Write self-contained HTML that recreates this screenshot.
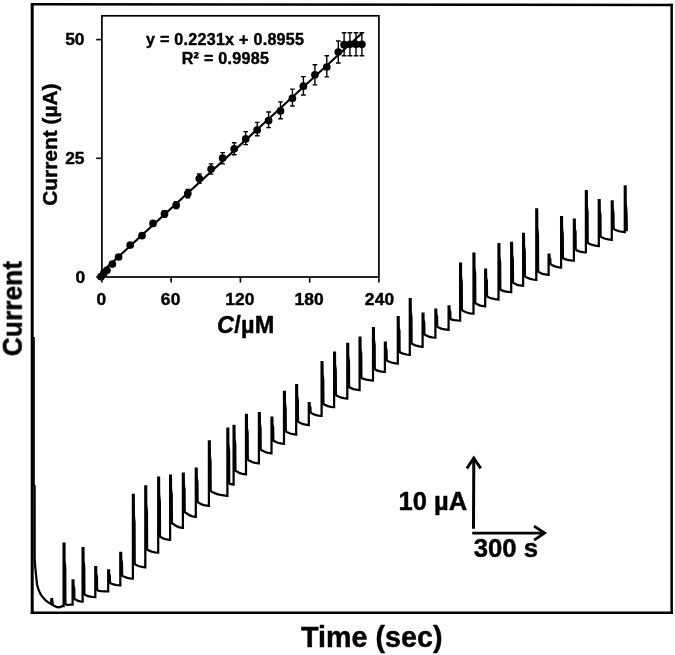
<!DOCTYPE html>
<html lang="en">
<head>
<meta charset="utf-8">
<title>Amperometric response</title>
<style>
html,body{margin:0;padding:0;background:#fff;}
body{width:675px;height:655px;overflow:hidden;font-family:"Liberation Sans",sans-serif;}
svg text{font-family:"Liberation Sans",sans-serif;}
</style>
</head>
<body>
<svg width="675" height="655" viewBox="0 0 675 655" style="display:block">
<rect x="0" y="0" width="675" height="655" fill="#fff"/>
<g fill="none" stroke="#000" stroke-linecap="butt" stroke-linejoin="miter">
<path d="M32.2 614 L32.2 4.2" stroke-width="3"/>
<path d="M30.7 4.2 L672.9 5.0" stroke-width="2.6"/>
<path d="M671.65 3.7 L671.65 614" stroke-width="2.5"/>
<path d="M30.7 612.75 L672.9 612.75" stroke-width="2.5"/>
</g>
<path d="M33.7 337 L33.7 485 L34.6 486 L34.65 558 L35.2 567 L36 574.3 L36.55 580 L37.1 584.7 L38.1 588.5 L39.4 591.7 L41 594.8 L43.1 597.6 L45.6 600.3 L48.6 602.6 L50.8 603.9 L51.4 599 L52.2 599 L52.8 605 L54.7 606 L56.5 606.9 L58 607.4 L60 607.2 L62 606.2 L63.5 606 L63.6 606 L63.6 543.7 L64.45 543.7 L64.55 560.84 L65.25 568.18 L65.4 603.3 L65.9 604.34 L66.9 604.9 L68.72 604.79 L70.53 604.73 L72.4 604.7 L72.6 604.7 L72.6 580.3 L73.45 580.3 L73.55 585.76 L74.25 588.1 L74.4 598.2 L74.9 599.24 L75.9 599.8 L78.05 600.85 L80.19 601.42 L82.4 601.7 L82.6 601.7 L82.6 548.2 L83.45 548.2 L83.55 561.39 L84.25 567.04 L84.4 593.7 L84.9 594.74 L85.9 595.3 L88.94 596.29 L91.97 596.83 L95.1 597.1 L95.3 597.1 L95.3 567.1 L96.15 567.1 L96.25 573.74 L96.95 576.58 L97.1 589.2 L97.6 590.24 L98.6 590.8 L101.7 591.13 L104.8 591.31 L108 591.4 L108.2 591.4 L108.2 570.4 L109.05 570.4 L109.15 574.15 L109.85 575.76 L110 582.2 L110.5 583.24 L111.5 583.8 L114.34 584.62 L117.18 585.07 L120.1 585.3 L120.3 585.3 L120.3 552.9 L121.15 552.9 L121.25 559.51 L121.95 562.34 L122.1 574.9 L122.6 575.94 L123.6 576.5 L126.6 577.65 L129.61 578.28 L132.7 578.6 L132.9 578.6 L132.9 494.9 L133.75 494.9 L133.85 514.53 L134.55 522.94 L134.7 563.4 L135.2 564.44 L136.2 565 L139.14 566.26 L142.07 566.95 L145.1 567.3 L145.3 567.3 L145.3 486.3 L146.15 486.3 L146.25 504.25 L146.95 511.94 L147.1 548.8 L147.6 549.84 L148.6 550.4 L151.7 551.61 L154.8 552.27 L158 552.6 L158.2 552.6 L158.2 477.5 L159.05 477.5 L159.15 494.33 L159.85 501.54 L160 536 L160.5 537.04 L161.5 537.6 L164.27 538.81 L167.04 539.47 L169.9 539.8 L170.1 539.8 L170.1 475.6 L170.95 475.6 L171.05 489.15 L171.75 494.96 L171.9 522.4 L172.4 523.44 L173.4 524 L176.47 526.14 L179.54 527.31 L182.7 527.9 L182.9 527.9 L182.9 473.5 L183.75 473.5 L183.85 484.56 L184.55 489.3 L184.7 511.4 L185.2 512.44 L186.2 513 L189.3 515.14 L192.4 516.31 L195.6 516.9 L195.8 516.9 L195.8 468.6 L196.65 468.6 L196.75 478.23 L197.45 482.36 L197.6 501.4 L198.1 502.44 L199.1 503 L202.27 504.59 L205.44 505.46 L208.7 505.9 L208.9 505.9 L208.9 441.4 L209.75 441.4 L209.85 455.57 L210.55 461.64 L210.7 490.4 L211.2 491.44 L212.2 492 L217.15 494.09 L222.1 495.23 L227.2 495.8 L227.4 495.8 L227.4 428.6 L228.25 428.6 L228.35 444.17 L229.05 450.84 L229.2 482.6 L229.7 483.64 L230.7 484.2 L233.4 484.6 L233.6 484.6 L233.6 425.8 L234.45 425.8 L234.55 438.62 L235.25 444.12 L235.4 470 L235.9 471.04 L236.9 471.6 L239.84 473.14 L242.77 473.98 L245.8 474.4 L246 474.4 L246 414.8 L246.85 414.8 L246.95 427.62 L247.65 433.12 L247.8 459 L248.3 460.04 L249.3 460.6 L252.4 462.14 L255.5 462.98 L258.7 463.4 L258.9 463.4 L258.9 413 L259.75 413 L259.85 423.5 L260.55 428 L260.7 448.9 L261.2 449.94 L262.2 450.5 L265.2 452.04 L268.21 452.88 L271.3 453.3 L271.5 453.3 L271.5 417.6 L272.35 417.6 L272.45 424.26 L273.15 427.12 L273.3 439.8 L273.8 440.84 L274.8 441.4 L277.77 442.72 L280.74 443.44 L283.8 443.8 L284 443.8 L284 391.9 L284.85 391.9 L284.95 403.18 L285.65 408.02 L285.8 430.6 L286.3 431.64 L287.3 432.2 L290.17 433.52 L293.04 434.24 L296 434.6 L296.2 434.6 L296.2 385.1 L297.05 385.1 L297.15 395.6 L297.85 400.1 L298 421 L298.5 422.04 L299.5 422.6 L302.5 423.92 L305.51 424.64 L308.6 425 L308.8 425 L308.8 403 L309.65 403 L309.75 405.94 L310.45 407.2 L310.6 411.9 L311.1 412.94 L312.1 413.5 L315.17 414.82 L318.24 415.54 L321.4 415.9 L321.6 415.9 L321.6 362.2 L322.45 362.2 L322.55 374.16 L323.25 379.28 L323.4 403.3 L323.9 404.34 L324.9 404.9 L327.87 406.11 L330.84 406.77 L333.9 407.1 L334.1 407.1 L334.1 352.5 L334.95 352.5 L335.05 364.71 L335.75 369.94 L335.9 394.5 L336.4 395.54 L337.4 396.1 L340.6 397.42 L343.8 398.14 L347.1 398.5 L347.3 398.5 L347.3 343.9 L348.15 343.9 L348.25 356.22 L348.95 361.5 L349.1 386.3 L349.6 387.34 L350.6 387.9 L353.5 389.06 L356.41 389.69 L359.4 390 L359.6 390 L359.6 337.5 L360.45 337.5 L360.55 349.04 L361.25 353.98 L361.4 377.1 L361.9 378.14 L362.9 378.7 L366.17 379.69 L369.43 380.23 L372.8 380.5 L373 380.5 L373 328 L373.85 328 L373.95 339.79 L374.65 344.84 L374.8 368.5 L375.3 369.54 L376.3 370.1 L379.07 371.09 L381.84 371.63 L384.7 371.9 L384.9 371.9 L384.9 342.6 L385.75 342.6 L385.85 347.84 L386.55 350.08 L386.7 359.7 L387.2 360.74 L388.2 361.3 L391.3 362.51 L394.4 363.17 L397.6 363.5 L397.8 363.5 L397.8 317 L398.65 317 L398.75 327.05 L399.45 331.36 L399.6 351.3 L400.1 352.34 L401.1 352.9 L403.9 353.94 L406.71 354.51 L409.6 354.8 L409.8 354.8 L409.8 299 L410.65 299 L410.75 311.71 L411.45 317.16 L411.6 342.8 L412.1 343.84 L413.1 344.4 L416.17 345.72 L419.24 346.44 L422.4 346.8 L422.6 346.8 L422.6 313.7 L423.45 313.7 L423.55 319.75 L424.25 322.34 L424.4 333.7 L424.9 334.74 L425.9 335.3 L428.97 336.62 L432.04 337.34 L435.2 337.7 L435.4 337.7 L435.4 309.6 L436.25 309.6 L436.35 314.64 L437.05 316.8 L437.2 326 L437.7 327.04 L438.7 327.6 L441.9 328.81 L445.1 329.47 L448.4 329.8 L448.6 329.8 L448.6 306.3 L449.45 306.3 L449.55 310.05 L450.25 311.66 L450.4 318.1 L450.9 319.14 L451.9 319.7 L454.54 320.19 L457.18 320.47 L459.9 320.6 L460.1 320.6 L460.1 263.5 L460.95 263.5 L461.05 276.83 L461.75 282.54 L461.9 309.5 L462.4 310.54 L463.4 311.1 L466.67 312.53 L469.93 313.31 L473.3 313.7 L473.5 313.7 L473.5 253.7 L474.35 253.7 L474.45 267.81 L475.15 273.86 L475.3 302.5 L475.8 303.54 L476.8 304.1 L479.51 305.31 L482.21 305.97 L485 306.3 L485.2 306.3 L485.2 269.7 L486.05 269.7 L486.15 277.4 L486.85 280.7 L487 295.6 L487.5 296.64 L488.5 297.2 L491.73 298.46 L494.97 299.15 L498.3 299.5 L498.5 299.5 L498.5 244.1 L499.35 244.1 L499.45 257.06 L500.15 262.62 L500.3 288.8 L500.8 289.84 L501.8 290.4 L504.84 291.28 L507.87 291.76 L511 292 L511.2 292 L511.2 242.9 L512.05 242.9 L512.15 254.3 L512.85 259.18 L513 282 L513.5 283.04 L514.5 283.6 L517.27 284.81 L520.04 285.47 L522.9 285.8 L523.1 285.8 L523.1 233.8 L523.95 233.8 L524.05 245.95 L524.75 251.16 L524.9 275.6 L525.4 276.64 L526.4 277.2 L529.6 278.69 L532.8 279.5 L536.1 279.9 L536.3 279.9 L536.3 209.4 L537.15 209.4 L537.25 227.1 L537.95 234.68 L538.1 271 L538.6 272.04 L539.6 272.6 L542.5 273.81 L545.41 274.47 L548.4 274.8 L548.6 274.8 L548.6 254.6 L549.45 254.6 L549.55 257.48 L550.25 258.72 L550.4 263.3 L550.9 264.34 L551.9 264.9 L554.87 266.33 L557.84 267.11 L560.9 267.5 L561.1 267.5 L561.1 217.1 L561.95 217.1 L562.05 228.8 L562.75 233.82 L562.9 257.3 L563.4 258.34 L564.4 258.9 L567.47 259.89 L570.54 260.43 L573.7 260.7 L573.9 260.7 L573.9 219.7 L574.75 219.7 L574.85 228.35 L575.55 232.06 L575.7 249 L576.2 250.04 L577.2 250.6 L580 251.59 L582.81 252.13 L585.7 252.4 L585.9 252.4 L585.9 191.1 L586.75 191.1 L586.85 205.83 L587.55 212.14 L587.7 242.1 L588.2 243.14 L589.2 243.7 L592.3 244.97 L595.4 245.66 L598.6 246 L598.8 246 L598.8 200 L599.65 200 L599.75 210.5 L600.45 215 L600.6 235.9 L601.1 236.94 L602.1 237.5 L605.24 238.77 L608.37 239.46 L611.6 239.8 L611.8 239.8 L611.8 201.3 L612.65 201.3 L612.75 209.25 L613.45 212.66 L613.6 228.1 L614.1 229.14 L615.1 229.7 L618.24 231.02 L621.37 231.74 L624.6 232.1 L624.8 232.1 L624.8 186.3 L625.65 186.3 L625.7 203.29 L626.4 210.89 L626.7 222.5 L626.8 231.3" fill="none" stroke="#000" stroke-width="2.25" stroke-linejoin="miter" stroke-miterlimit="2" stroke-linecap="butt"/>
<g fill="none" stroke="#000" stroke-linecap="butt" stroke-linejoin="miter">
<path d="M473.5 528.8 L473.8 458" stroke-width="3"/>
<path d="M466.9 468.4 L473.8 458.0 L480.7 468.4" stroke-width="2.9" stroke-miterlimit="6"/>
<path d="M472.2 533.1 L544 533.1" stroke-width="2.6"/>
<path d="M534.1 526.1 L544.5 533.1 L534.1 540.1" stroke-width="2.9" stroke-miterlimit="6"/>
</g>
<g fill="none" stroke="#000" stroke-linecap="butt">
<rect x="101.9" y="15.8" width="277" height="261.2" stroke-width="1.7"/>
<path d="M96.2 39.6 L101.9 39.6" stroke-width="1.6"/>
<path d="M96.2 158.3 L101.9 158.3" stroke-width="1.6"/>
<path d="M96.2 277.0 L101.9 277.0" stroke-width="1.6"/>
<path d="M101.9 277.0 L101.9 282.6" stroke-width="1.6"/>
<path d="M171.15 277.0 L171.15 282.6" stroke-width="1.6"/>
<path d="M240.4 277.0 L240.4 282.6" stroke-width="1.6"/>
<path d="M309.65 277.0 L309.65 282.6" stroke-width="1.6"/>
<path d="M378.9 277.0 L378.9 282.6" stroke-width="1.6"/>
</g>
<path d="M100.6 273.1 L361.6 33.6" stroke="#000" stroke-width="2.1" fill="none"/>
<g stroke="#000" stroke-width="1.4" fill="none">
<path d="M164.5 210.6 L164.5 217.2 M162.15 210.6 L166.85 210.6 M162.15 217.2 L166.85 217.2"/>
<path d="M176.2 201.6 L176.2 208.6 M173.85 201.6 L178.55 201.6 M173.85 208.6 L178.55 208.6"/>
<path d="M187.8 189.5 L187.8 197.7 M185.45 189.5 L190.15 189.5 M185.45 197.7 L190.15 197.7"/>
<path d="M199.3 174 L199.3 183.2 M196.95 174 L201.65 174 M196.95 183.2 L201.65 183.2"/>
<path d="M211.1 163.9 L211.1 174.1 M208.75 163.9 L213.45 163.9 M208.75 174.1 L213.45 174.1"/>
<path d="M222.6 152.6 L222.6 163.9 M220.25 152.6 L224.95 152.6 M220.25 163.9 L224.95 163.9"/>
<path d="M234.2 142.7 L234.2 154.8 M231.85 142.7 L236.55 142.7 M231.85 154.8 L236.55 154.8"/>
<path d="M245.7 131.6 L245.7 144.6 M243.35 131.6 L248.05 131.6 M243.35 144.6 L248.05 144.6"/>
<path d="M257.2 122.4 L257.2 135.8 M254.85 122.4 L259.55 122.4 M254.85 135.8 L259.55 135.8"/>
<path d="M268.6 112 L268.6 127.6 M266.25 112 L270.95 112 M266.25 127.6 L270.95 127.6"/>
<path d="M280.5 101.9 L280.5 118.8 M278.15 101.9 L282.85 101.9 M278.15 118.8 L282.85 118.8"/>
<path d="M292.4 89.1 L292.4 106 M290.05 89.1 L294.75 89.1 M290.05 106 L294.75 106"/>
<path d="M303.4 76.6 L303.4 95 M301.05 76.6 L305.75 76.6 M301.05 95 L305.75 95"/>
<path d="M314.9 64.7 L314.9 84.9 M312.55 64.7 L317.25 64.7 M312.55 84.9 L317.25 84.9"/>
<path d="M326.8 55.7 L326.8 76.9 M324.45 55.7 L329.15 55.7 M324.45 76.9 L329.15 76.9"/>
<path d="M338.3 41 L338.3 63 M335.95 41 L340.65 41 M335.95 63 L340.65 63"/>
<path d="M344.1 32.8 L344.1 55.7 M341.75 32.8 L346.45 32.8 M341.75 55.7 L346.45 55.7"/>
<path d="M349.9 32.8 L349.9 55.7 M347.55 32.8 L352.25 32.8 M347.55 55.7 L352.25 55.7"/>
<path d="M356 32.8 L356 55.7 M353.65 32.8 L358.35 32.8 M353.65 55.7 L358.35 55.7"/>
<path d="M361.9 32.8 L361.9 55.7 M359.55 32.8 L364.25 32.8 M359.55 55.7 L364.25 55.7"/>
</g>
<g fill="#000">
<circle cx="101" cy="276.7" r="3.85"/>
<circle cx="103.7" cy="273.5" r="3.85"/>
<circle cx="106.9" cy="270.3" r="3.85"/>
<circle cx="112.4" cy="264.1" r="3.85"/>
<circle cx="118.6" cy="257" r="3.85"/>
<circle cx="130.2" cy="245.1" r="3.85"/>
<circle cx="142" cy="235.7" r="3.85"/>
<circle cx="153" cy="223.4" r="3.85"/>
<circle cx="164.5" cy="213.9" r="3.85"/>
<circle cx="176.2" cy="205.1" r="3.85"/>
<circle cx="187.8" cy="193.6" r="3.85"/>
<circle cx="199.3" cy="178.6" r="3.85"/>
<circle cx="211.1" cy="169" r="3.85"/>
<circle cx="222.6" cy="158" r="3.85"/>
<circle cx="234.2" cy="148.8" r="3.85"/>
<circle cx="245.7" cy="138.9" r="3.85"/>
<circle cx="257.2" cy="130.1" r="3.85"/>
<circle cx="268.6" cy="120.6" r="3.85"/>
<circle cx="280.5" cy="110.9" r="3.85"/>
<circle cx="292.4" cy="98.3" r="3.85"/>
<circle cx="303.4" cy="86.2" r="3.85"/>
<circle cx="314.9" cy="74.8" r="3.85"/>
<circle cx="326.8" cy="67" r="3.85"/>
<circle cx="338.3" cy="52" r="3.85"/>
<circle cx="344.1" cy="44.7" r="3.85"/>
<circle cx="349.9" cy="44.3" r="3.85"/>
<circle cx="356" cy="44.3" r="3.85"/>
<circle cx="361.9" cy="44.3" r="3.85"/>
</g>
<g opacity="0.999">
<text x="84.5" y="45.2" font-size="17.4" text-anchor="end" font-family="Liberation Sans, sans-serif" font-weight="bold" fill="#000" stroke="#000" stroke-width="0.45" stroke-linejoin="round" >50</text>
<text x="84.5" y="164.2" font-size="17.4" text-anchor="end" font-family="Liberation Sans, sans-serif" font-weight="bold" fill="#000" stroke="#000" stroke-width="0.45" stroke-linejoin="round" >25</text>
<text x="85.2" y="283.3" font-size="17.4" text-anchor="end" font-family="Liberation Sans, sans-serif" font-weight="bold" fill="#000" stroke="#000" stroke-width="0.45" stroke-linejoin="round" >0</text>
<text x="101.4" y="305.1" font-size="17.4" text-anchor="middle" font-family="Liberation Sans, sans-serif" font-weight="bold" fill="#000" stroke="#000" stroke-width="0.45" stroke-linejoin="round" letter-spacing="0.15">0</text>
<text x="170.65" y="305.1" font-size="17.4" text-anchor="middle" font-family="Liberation Sans, sans-serif" font-weight="bold" fill="#000" stroke="#000" stroke-width="0.45" stroke-linejoin="round" letter-spacing="0.15">60</text>
<text x="239.9" y="305.1" font-size="17.4" text-anchor="middle" font-family="Liberation Sans, sans-serif" font-weight="bold" fill="#000" stroke="#000" stroke-width="0.45" stroke-linejoin="round" letter-spacing="0.15">120</text>
<text x="309.15" y="305.1" font-size="17.4" text-anchor="middle" font-family="Liberation Sans, sans-serif" font-weight="bold" fill="#000" stroke="#000" stroke-width="0.45" stroke-linejoin="round" letter-spacing="0.15">180</text>
<text x="379.6" y="305.1" font-size="17.4" text-anchor="middle" font-family="Liberation Sans, sans-serif" font-weight="bold" fill="#000" stroke="#000" stroke-width="0.45" stroke-linejoin="round" letter-spacing="0.15">240</text>
<text x="146" y="44.9" font-size="16.1" text-anchor="start" font-family="Liberation Sans, sans-serif" font-weight="bold" fill="#000" stroke="#000" stroke-width="0.45" stroke-linejoin="round" letter-spacing="0.26">y = 0.2231x + 0.8955</text>
<text x="181.7" y="64.2" font-size="16.1" text-anchor="start" font-family="Liberation Sans, sans-serif" font-weight="bold" fill="#000" stroke="#000" stroke-width="0.45" stroke-linejoin="round" letter-spacing="0.26">R² = 0.9985</text>
<text x="245.8" y="333.3" font-size="23.5" text-anchor="middle" font-family="Liberation Sans, sans-serif" font-weight="bold" fill="#000" stroke="#000" stroke-width="0.45" stroke-linejoin="round" letter-spacing="0.3"><tspan font-style="italic">C</tspan>/µM</text>
<text transform="translate(57.3 144.6) rotate(-90)" font-size="20.9" text-anchor="middle" font-family="Liberation Sans, sans-serif" font-weight="bold" fill="#000" stroke="#000" stroke-width="0.45" stroke-linejoin="round">Current (µA)</text>
<text transform="translate(21.8 308.6) rotate(-90) scale(0.925 1)" font-size="28.5" text-anchor="middle" font-family="Liberation Sans, sans-serif" font-weight="bold" fill="#000" stroke="#000" stroke-width="0.45" stroke-linejoin="round">Current</text>
<text x="371.8" y="646.8" font-size="28.7" text-anchor="middle" font-family="Liberation Sans, sans-serif" font-weight="bold" fill="#000" stroke="#000" stroke-width="0.45" stroke-linejoin="round" >Time (sec)</text>
<text x="398.5" y="510.3" font-size="25.5" text-anchor="start" font-family="Liberation Sans, sans-serif" font-weight="bold" fill="#000" stroke="#000" stroke-width="0.45" stroke-linejoin="round" >10 µA</text>
<text x="473.7" y="557" font-size="25.7" text-anchor="start" font-family="Liberation Sans, sans-serif" font-weight="bold" fill="#000" stroke="#000" stroke-width="0.45" stroke-linejoin="round" >300 s</text>
</g>
</svg>
</body>
</html>
